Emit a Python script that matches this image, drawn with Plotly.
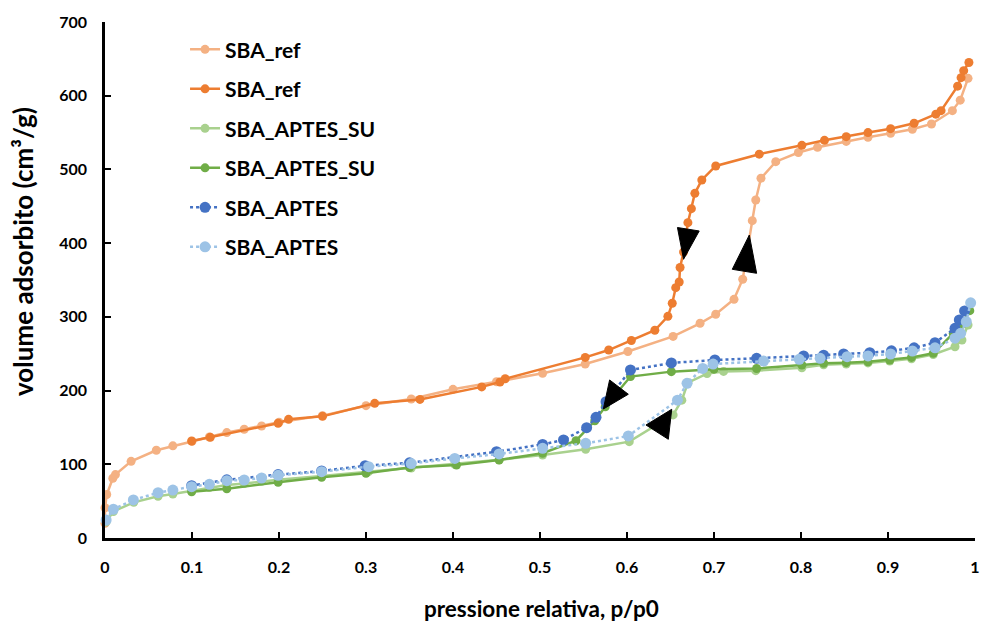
import plotly.graph_objects as go

# Nitrogen physisorption isotherms: relative pressure p/p0 vs adsorbed volume (cm3/g)

# SBA_ref adsorption branch
ref_ads_x = [0.0, 0.0, 0.002, 0.009, 0.012, 0.03, 0.059, 0.078, 0.1, 0.12, 0.14, 0.16,
             0.18, 0.2, 0.25, 0.3, 0.352, 0.40, 0.45, 0.503, 0.552, 0.601, 0.653, 0.684,
             0.702, 0.723, 0.733, 0.738, 0.744, 0.748, 0.754, 0.771, 0.797, 0.819, 0.852,
             0.877, 0.903, 0.928, 0.950, 0.974, 0.983, 0.992]
ref_ads_y = [20, 41, 59, 81, 86, 104, 119, 125, 131, 137, 143, 147.5,
             152, 157, 166, 179.5, 188.6, 201.7, 212, 223.4, 236, 253, 273.5, 291.3,
             303.5, 323.8, 351, 390, 430.5, 458.6, 488, 510.5, 523, 530, 538,
             543.6, 549, 554.5, 561.7, 579.7, 594, 623.6]

# SBA_ref desorption branch
ref_des_x = [0.993, 0.987, 0.984, 0.980, 0.961, 0.955, 0.930, 0.903, 0.877, 0.852, 0.827,
             0.801, 0.752, 0.702, 0.686, 0.678, 0.674, 0.670, 0.665, 0.661, 0.660, 0.656,
             0.652, 0.647, 0.632, 0.605, 0.579, 0.552, 0.46, 0.454, 0.433, 0.362, 0.31,
             0.25, 0.211, 0.199, 0.121, 0.0996]
ref_des_y = [645, 634, 624.5, 613, 579.7, 575, 562.6, 555.3, 550, 544.5, 539.5,
             532.7, 520.7, 504.7, 485.7, 467.6, 446.8, 427.8, 388, 367, 347.3, 339.6,
             318.4, 300.7, 281.8, 268, 255, 245, 216, 211.6, 205, 188, 182.7,
             165, 161, 155.6, 136.6, 131.6]

# SBA_APTES_SU adsorption branch
su_ads_x = [0.0013, 0.0096, 0.033, 0.061, 0.078, 0.0996, 0.12, 0.14, 0.16, 0.18, 0.199,
            0.249, 0.303, 0.352, 0.402, 0.453, 0.503, 0.5525, 0.6026, 0.653, 0.663, 0.670,
            0.692, 0.711, 0.748, 0.801, 0.826, 0.852, 0.877, 0.902, 0.927, 0.952, 0.977,
            0.985, 0.992]
su_ads_y = [22, 36, 48.4, 56.6, 59.7, 64, 68.5, 72, 74, 77, 79,
            84, 90, 95, 100, 106, 112.6, 120.3, 130.7, 167, 187, 210.7,
            223, 226, 227, 231, 235, 236, 237.5, 240, 243, 249, 259.5,
            268.6, 289]

# SBA_APTES_SU desorption branch
su_des_x = [0.994, 0.985, 0.975, 0.952, 0.927, 0.902, 0.877, 0.852, 0.826, 0.801, 0.749,
            0.70, 0.651, 0.604, 0.575, 0.563, 0.5414, 0.503, 0.453, 0.404, 0.35, 0.30,
            0.249, 0.199, 0.14, 0.0996]
su_des_y = [308.4, 290, 277.7, 250.5, 245, 241.5, 239, 237.9, 237, 234.7, 230,
            229, 225.7, 219, 178, 159, 132, 115, 105.8, 99, 95.5, 87.8,
            82.3, 75.5, 66.8, 62.8]

# SBA_APTES desorption branch
ap_des_x = [0.988, 0.982, 0.977, 0.954, 0.930, 0.904, 0.879, 0.849, 0.826, 0.803, 0.749,
            0.701, 0.651, 0.604, 0.5759, 0.5644, 0.5536, 0.527, 0.503, 0.450, 0.35, 0.299,
            0.249, 0.199, 0.14, 0.0996]
ap_des_y = [308, 295.8, 284.5, 265, 258, 254, 251.4, 249.6, 248, 247, 243.8,
            241.5, 237.5, 228, 185, 163.7, 149.7, 133, 127, 117, 102, 98,
            91, 86, 79, 71]

# SBA_APTES adsorption branch
ap_ads_x = [0.0013, 0.0096, 0.0326, 0.061, 0.078, 0.0996, 0.12, 0.14, 0.16, 0.18, 0.199,
            0.249, 0.303, 0.352, 0.402, 0.453, 0.503, 0.5525, 0.6015, 0.658, 0.669, 0.687,
            0.699, 0.757, 0.798, 0.822, 0.853, 0.877, 0.903, 0.928, 0.954, 0.977, 0.9835,
            0.990, 0.995]
ap_ads_y = [24.4, 39, 51.6, 61.5, 65, 69.6, 72.8, 77.8, 78.7, 81.4, 85,
            90, 96.7, 101, 108, 114, 121.6, 128.5, 138.4, 187, 209.9, 230,
            236, 240, 242.4, 243.8, 246, 247, 249.6, 253.7, 258, 271, 277.7,
            293.5, 319]

x_tick_vals = [0, 0.1, 0.2, 0.3, 0.4, 0.5, 0.6, 0.7, 0.8, 0.9, 1]
x_tick_text = ["0", "0.1", "0.2", "0.3", "0.4", "0.5", "0.6", "0.7", "0.8", "0.9", "1"]
y_tick_vals = [0, 100, 200, 300, 400, 500, 600, 700]

x_title = "pressione relativa, p/p0"
y_title = "volume adsorbito (cm³/g)"

# Direction arrows along the hysteresis loops (triangle vertices in data units)
arrow_triangles = [
    [(0.658, 421.2), (0.683, 416.5), (0.665, 378.1)],
    [(0.7406, 411.0), (0.721, 364.5), (0.749, 359.1)],
    [(0.580, 214.4), (0.6015, 195.0), (0.5728, 175.0)],
    [(0.6514, 174.6), (0.6218, 153.3), (0.6475, 133.9)],
]

FONT = "Lato, 'Open Sans', sans-serif"

series = [
    ("SBA_ref", ref_ads_x, ref_ads_y, "#F4B183", "solid", 9),
    ("SBA_ref", ref_des_x, ref_des_y, "#ED7D31", "solid", 9),
    ("SBA_APTES_SU", su_ads_x, su_ads_y, "#A9D18E", "solid", 9),
    ("SBA_APTES_SU", su_des_x, su_des_y, "#70AD47", "solid", 9),
    ("SBA_APTES", ap_des_x, ap_des_y, "#4472C4", "dot", 11),
    ("SBA_APTES", ap_ads_x, ap_ads_y, "#9DC3E6", "dot", 11),
]

fig = go.Figure()
for i, (name, xs, ys, color, dash, msize) in enumerate(series):
    fig.add_trace(go.Scatter(
        x=xs, y=ys, name=name, mode="lines+markers",
        line=dict(color=color, width=2.5, dash=dash),
        marker=dict(color=color, size=msize),
        cliponaxis=False, legendgroup=f"g{i}",
    ))

for tri in arrow_triangles:
    path = "M {} {} L {} {} L {} {} Z".format(*[c for p in tri for c in p])
    fig.add_shape(type="path", path=path, xref="x", yref="y",
                  fillcolor="black", line=dict(color="black", width=1))

# Axis titles
fig.add_annotation(text=f"<b>{x_title}</b>", xref="paper", yref="paper",
                   x=0.502, y=-0.136, xanchor="center", yanchor="middle",
                   showarrow=False, font=dict(family=FONT, size=22.5, color="black"))
fig.add_annotation(text=f"<b>{y_title}</b>", xref="paper", yref="paper",
                   x=-0.095, y=0.555, xanchor="center", yanchor="middle",
                   textangle=-90, showarrow=False,
                   font=dict(family=FONT, size=26, color="black"))

fig.update_layout(
    width=982, height=625,
    margin=dict(l=105, r=7, t=22, b=87, autoexpand=False),
    paper_bgcolor="white", plot_bgcolor="white",
    font=dict(family=FONT, color="black", size=16),
    showlegend=True,
    legend=dict(
        x=0.092, y=0.986, xanchor="left", yanchor="top",
        font=dict(family=FONT, size=21, color="black", weight="bold"),
        traceorder="grouped", tracegroupgap=9.2,
        bgcolor="rgba(0,0,0,0)",
    ),
    xaxis=dict(
        range=[0, 1], tickvals=x_tick_vals, ticktext=x_tick_text,
        showgrid=False, zeroline=False, automargin=False,
        showline=True, linecolor="black", linewidth=2.5,
        ticks="inside", ticklen=6, tickwidth=2, tickcolor="black",
        tickfont=dict(family=FONT, size=16, color="black", weight="bold"),
        ticklabelstandoff=13,
    ),
    yaxis=dict(
        range=[0, 700], tickvals=y_tick_vals,
        showgrid=False, zeroline=False, automargin=False,
        showline=True, linecolor="black", linewidth=2.5,
        ticks="inside", ticklen=6, tickwidth=2, tickcolor="black",
        tickfont=dict(family=FONT, size=16, color="black", weight="bold"),
        ticklabelstandoff=12,
    ),
)

fig.write_html("out.html")
